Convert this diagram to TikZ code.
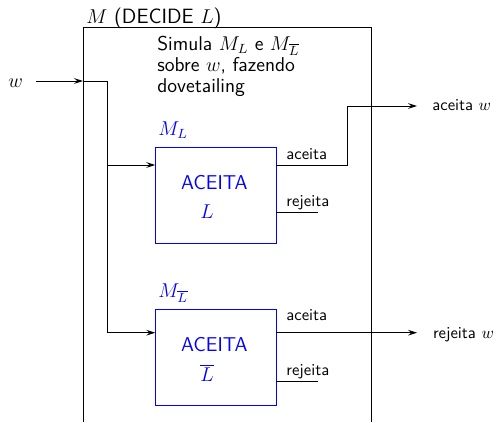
\documentclass[tikz,border=0pt]{standalone}
\usetikzlibrary{arrows.meta}
\begin{document}
\begin{tikzpicture}[x=0.6pt,y=-0.6pt,
  wire/.style={line width=0.5pt},
  sig/.style={wire,-{Stealth[length=5.4pt,width=3.4pt,inset=2pt]}},
  machine/.style={draw=blue,line width=0.5pt,inner sep=0pt,
    minimum width=72.2pt,minimum height=57.6pt},
  txt/.style={anchor=base west,inner sep=0pt,font=\sffamily\large},
  inner/.style={txt,text=blue},
  port/.style={anchor=base west,inner sep=0pt,font=\sffamily\normalsize}]
\useasboundingbox (0,0) rectangle (496,422);

% enclosing machine M, open at the bottom
\draw[wire] (83,422) -- (83,27) -- (371,27) -- (371,422);
\node[txt,font=\sffamily\fontsize{12.4}{14}\selectfont] (title) at (86,23) {$M$ (DECIDE $L$)};
\node[txt,align=left,font=\sffamily\fontsize{12}{12.6}\selectfont] (desc) at (157,92)
  {Simula $M_L$ e $M_{\overline{L}}$\\sobre $w$, fazendo\\dovetailing};

% the two simulated machines
\node[machine] (A) at (215.85,195.3) {};
\node[machine] (B) at (215.85,357.15) {};
\node[inner] (Aname) at (158,135) {$M_L$};
\node[inner] (Bname) at (158,297) {$M_{\overline{L}}$};
\node[inner] (Atop) at (180.7,189) {ACEITA};
\node[inner] (Abot) at (200,218) {$L$};
\node[inner] (Btop) at (180.7,351) {ACEITA};
\node[inner] (Bbot) at (200,381) {$\overline{L}$};

% input w, split to both machines
\node[anchor=base west,inner sep=0pt,font=\large] (w) at (8,87) {$w$};
\coordinate (win) at (36,81);
\coordinate (entry) at (83,81);
\coordinate (split) at (107.5,81);
\coordinate (rowAin) at (0,165);
\coordinate (rowBin) at (0,332.7);
\draw[sig] (win) -- (entry);
\draw[wire] (entry) -- (split) -- (split |- rowBin);
\draw[sig] (split |- rowAin) -- (A.west |- rowAin);
\draw[sig] (split |- rowBin) -- (B.west |- rowBin);

% outputs of the first machine
\node[port] (Aacc) at (286,159) {aceita};
\node[port] (Arej) at (286,206) {rejeita};
\coordinate (turn) at (347.7,106);
\coordinate (outacc) at (417,106);
\coordinate (rowArej) at (0,212.7);
\draw[wire] (A.east |- rowAin) -- (turn |- rowAin) -- (turn);
\draw[sig] (turn) -- (outacc);
\draw[wire] (A.east |- rowArej) -- (318,212.7);
\node[port] (acceptw) at (432,110) {aceita $w$};

% outputs of the second machine
\node[port] (Bacc) at (286,320.7) {aceita};
\node[port] (Brej) at (286,375) {rejeita};
\coordinate (outrej) at (417,332.7);
\coordinate (rowBrej) at (0,381);
\draw[sig] (B.east |- rowBin) -- (outrej);
\draw[wire] (B.east |- rowBrej) -- (318,381);
\node[port] (rejectw) at (432.7,338) {rejeita $w$};
\end{tikzpicture}
\end{document}
